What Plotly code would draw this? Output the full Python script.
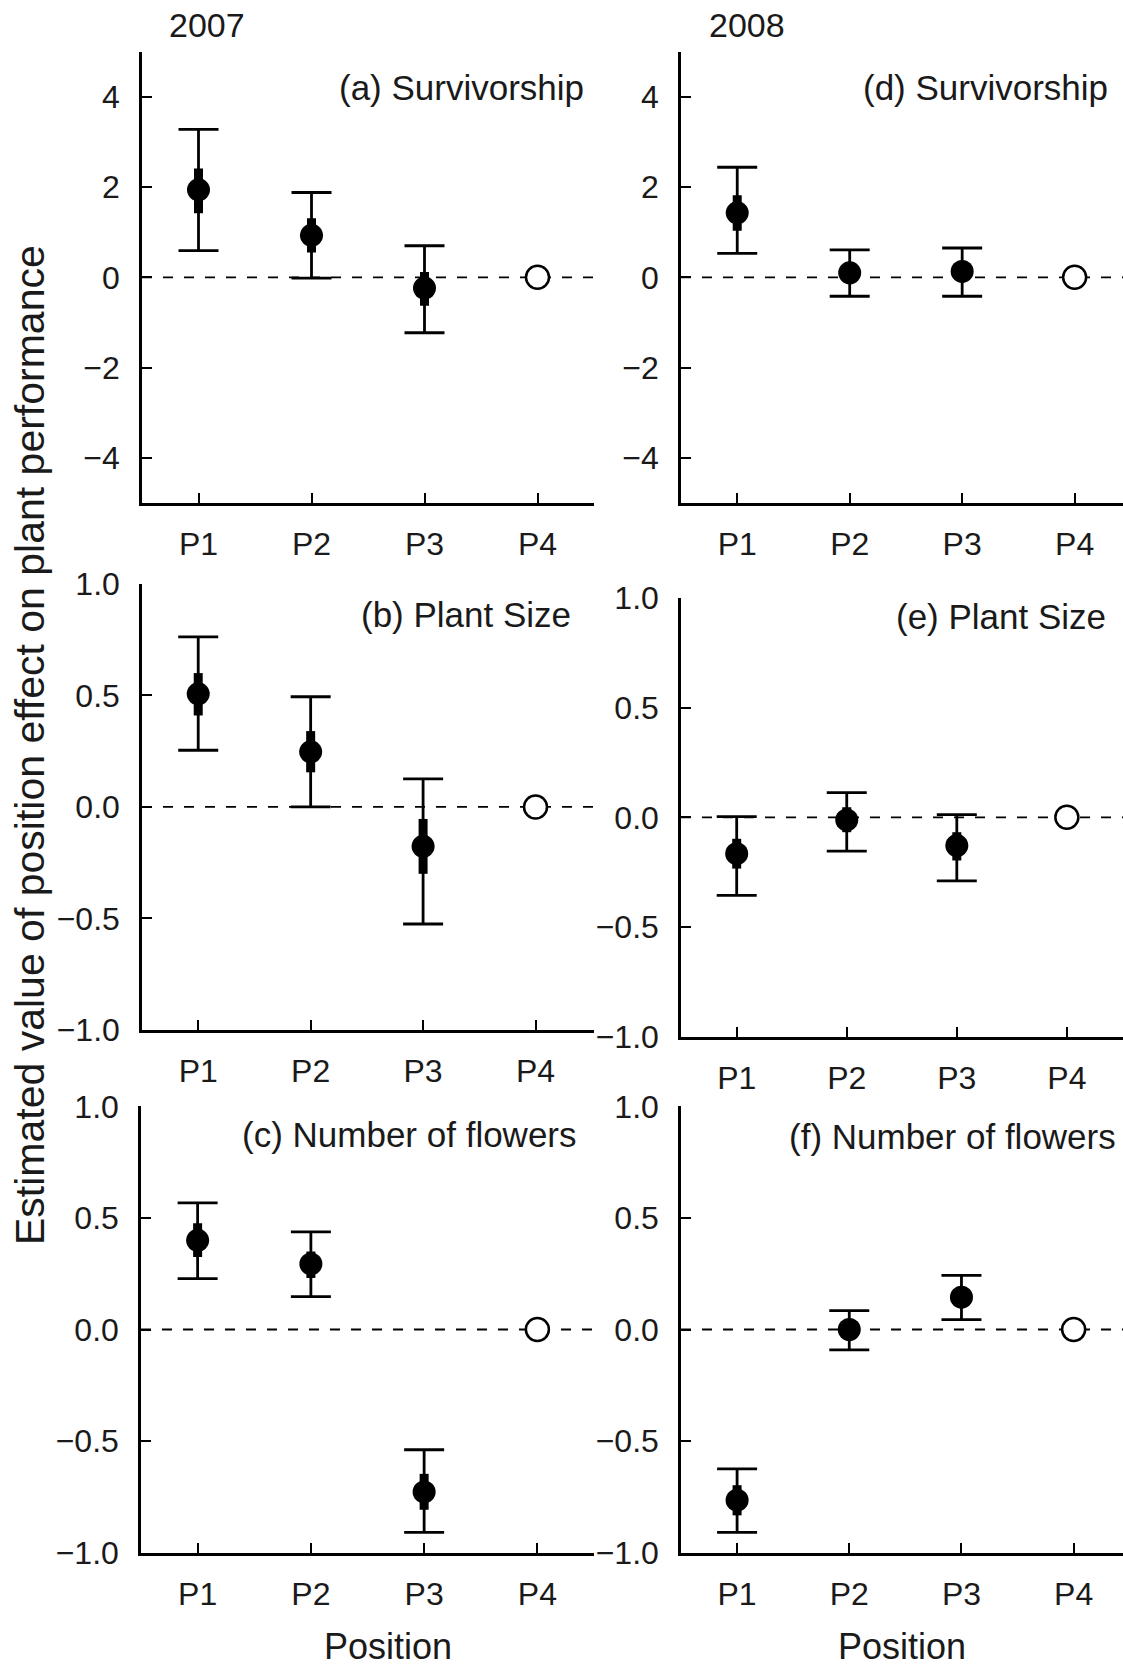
import numpy as np
import plotly.graph_objects as go

W, H = 1123, 1671

positions = ["P1", "P2", "P3", "P4"]
pos_x = [1, 2, 3, 4]
years = ["2007", "2008"]

# Panel data (P1..P3 estimates, P4 is the reference level = 0)
a_mean = [1.94, 0.93, -0.24]
a_lo = [0.59, -0.02, -1.23]
a_hi = [3.28, 1.88, 0.70]
a_se_lo = [1.42, 0.55, -0.63]
a_se_hi = [2.41, 1.31, 0.12]

d_mean = [1.43, 0.10, 0.13]
d_lo = [0.53, -0.42, -0.42]
d_hi = [2.44, 0.61, 0.65]
d_se_lo = [1.03, 0.10, 0.13]
d_se_hi = [1.82, 0.10, 0.13]

b_mean = [0.507, 0.247, -0.177]
b_lo = [0.254, 0.0, -0.525]
b_hi = [0.762, 0.494, 0.126]
b_se_lo = [0.41, 0.155, -0.30]
b_se_hi = [0.60, 0.34, -0.054]

e_mean = [-0.166, -0.012, -0.129]
e_lo = [-0.356, -0.154, -0.290]
e_hi = [0.003, 0.113, 0.012]
e_se_lo = [-0.234, -0.068, -0.197]
e_se_hi = [-0.098, 0.046, -0.068]

c_mean = [0.400, 0.294, -0.728]
c_lo = [0.228, 0.147, -0.909]
c_hi = [0.568, 0.438, -0.539]
c_se_lo = [0.325, 0.231, -0.808]
c_se_hi = [0.476, 0.350, -0.647]

f_mean = [-0.765, 0.0, 0.145]
f_lo = [-0.909, -0.091, 0.044]
f_hi = [-0.625, 0.085, 0.243]
f_se_lo = [-0.833, 0.0, 0.145]
f_se_hi = [-0.698, 0.0, 0.145]

ref_value = [0.0]

panel_titles = ["(a) Survivorship", "(d) Survivorship", "(b) Plant Size",
                "(e) Plant Size", "(c) Number of flowers", "(f) Number of flowers"]
y_title = "Estimated value of position effect on plant performance"
x_title = "Position"

surv_ticks = [-4, -2, 0, 2, 4]
unit_ticks = [-1.0, -0.5, 0.0, 0.5, 1.0]

panels = [
    (a_mean, a_lo, a_hi, a_se_lo, a_se_hi),
    (d_mean, d_lo, d_hi, d_se_lo, d_se_hi),
    (b_mean, b_lo, b_hi, b_se_lo, b_se_hi),
    (e_mean, e_lo, e_hi, e_se_lo, e_se_hi),
    (c_mean, c_lo, c_hi, c_se_lo, c_se_hi),
    (f_mean, f_lo, f_hi, f_se_lo, f_se_hi),
]

TXT = "#1a1a1a"
FONT = "Liberation Sans, Arial, Helvetica, sans-serif"


def px_x(p):
    return p / W


def px_y(p):
    return 1 - p / H


# layout geometry (pixels): x domains, y domains (top, bottom)
xdom = [(142, 594), (681, 1123), (142, 594), (681, 1123), (141, 594), (681, 1123)]
ydom = [(51.8, 502.8), (51.8, 502.8), (583.9, 1029.9), (598.1, 1036.5),
        (1106.4, 1552.6), (1106.4, 1552.6)]
xranges = [[0.5, 4.5], [0.5, 4.43], [0.5, 4.52], [0.494, 4.51], [0.5, 4.5], [0.5, 4.44]]
yranges = [[-5, 5], [-5, 5], [-1, 1], [-1, 1], [-1, 1], [-1, 1]]
label_pos = [(585.5, 87.5), (1110.3, 87.5), (572.9, 614.7), (1108, 616.4),
             (579, 1134.7), (1117.6, 1136.5)]

fig = go.Figure()
layout = dict(
    width=W, height=H, margin=dict(l=0, r=0, t=0, b=0, pad=0, autoexpand=False),
    paper_bgcolor="white", plot_bgcolor="white", showlegend=False,
    font=dict(family=FONT, color=TXT, size=32),
)
shapes = []
annotations = []

for i, (m, lo, hi, slo, shi) in enumerate(panels):
    n = i + 1
    xa = "x" if n == 1 else f"x{n}"
    ya = "y" if n == 1 else f"y{n}"
    m = np.array(m)
    lo = np.array(lo)
    hi = np.array(hi)
    slo = np.array(slo)
    shi = np.array(shi)
    xs = pos_x[:3]
    # thick inner bars
    fig.add_trace(go.Scatter(
        x=xs, y=m, mode="markers", xaxis=xa, yaxis=ya,
        marker=dict(size=1, color="rgba(0,0,0,0)"),
        error_y=dict(type="data", symmetric=False, array=shi - m, arrayminus=m - slo,
                     color="black", thickness=9, width=0),
        hoverinfo="skip"))
    # CI bars + estimate markers
    fig.add_trace(go.Scatter(
        x=xs, y=m, mode="markers", xaxis=xa, yaxis=ya,
        marker=dict(size=23, color="black", line=dict(width=0)),
        error_y=dict(type="data", symmetric=False, array=hi - m, arrayminus=m - lo,
                     color="black", thickness=2.8, width=20)))
    # reference level P4
    fig.add_trace(go.Scatter(
        x=pos_x[3:], y=ref_value, mode="markers", xaxis=xa, yaxis=ya,
        marker=dict(size=23, color="white", line=dict(width=2.5, color="black"))))
    # dashed zero line
    shapes.append(dict(type="line", xref=xa, yref=ya, x0=xranges[i][0], x1=xranges[i][1],
                       y0=0, y1=0, layer="below",
                       line=dict(color="black", width=1.8, dash="10px,11px")))

    key_x = "xaxis" if n == 1 else f"xaxis{n}"
    key_y = "yaxis" if n == 1 else f"yaxis{n}"
    layout[key_x] = dict(
        domain=[px_x(xdom[i][0]), px_x(xdom[i][1])], range=xranges[i], anchor=ya,
        showline=True, linecolor="black", linewidth=2.5, showgrid=False, zeroline=False,
        ticks="inside", ticklen=10, tickwidth=2.2, tickcolor="black",
        tickvals=pos_x, ticktext=positions, ticklabelstandoff=11, automargin=False,
        tickfont=dict(size=32, color=TXT, family=FONT), fixedrange=True)
    if yranges[i][1] == 5:
        tv, tf = surv_ticks, "d"
    else:
        tv, tf = unit_ticks, ".1f"
    layout[key_y] = dict(
        domain=[px_y(ydom[i][1]), px_y(ydom[i][0])], range=yranges[i], anchor=xa,
        showline=True, linecolor="black", linewidth=2.5, showgrid=False, zeroline=False,
        ticks="inside", ticklen=10, tickwidth=2.2, tickcolor="black",
        tickvals=tv, tickformat=tf, ticklabelstandoff=13, automargin=False,
        tickfont=dict(size=32, color=TXT, family=FONT), fixedrange=True)

    lx, ly = label_pos[i]
    annotations.append(dict(text=panel_titles[i], xref="paper", yref="paper",
                            x=px_x(lx), y=px_y(ly), xanchor="right", yanchor="middle",
                            showarrow=False, font=dict(size=35, color=TXT, family=FONT)))

# column year headers
for yr, cx in zip(years, [206.7, 746.7]):
    annotations.append(dict(text=yr, xref="paper", yref="paper", x=px_x(cx), y=px_y(25),
                            xanchor="center", yanchor="middle", showarrow=False,
                            font=dict(size=34, color=TXT, family=FONT)))
# x titles
for cx in [388.4, 901.8]:
    annotations.append(dict(text=x_title, xref="paper", yref="paper", x=px_x(cx),
                            y=px_y(1646), xanchor="center", yanchor="middle",
                            showarrow=False, font=dict(size=36, color=TXT, family=FONT)))
# y title
annotations.append(dict(text=y_title, xref="paper", yref="paper", x=px_x(30), y=px_y(745),
                        xanchor="center", yanchor="middle", textangle=-90, showarrow=False,
                        font=dict(size=41, color=TXT, family=FONT)))

layout["shapes"] = shapes
layout["annotations"] = annotations
fig.update_layout(**layout)
fig.write_html("out.html")
